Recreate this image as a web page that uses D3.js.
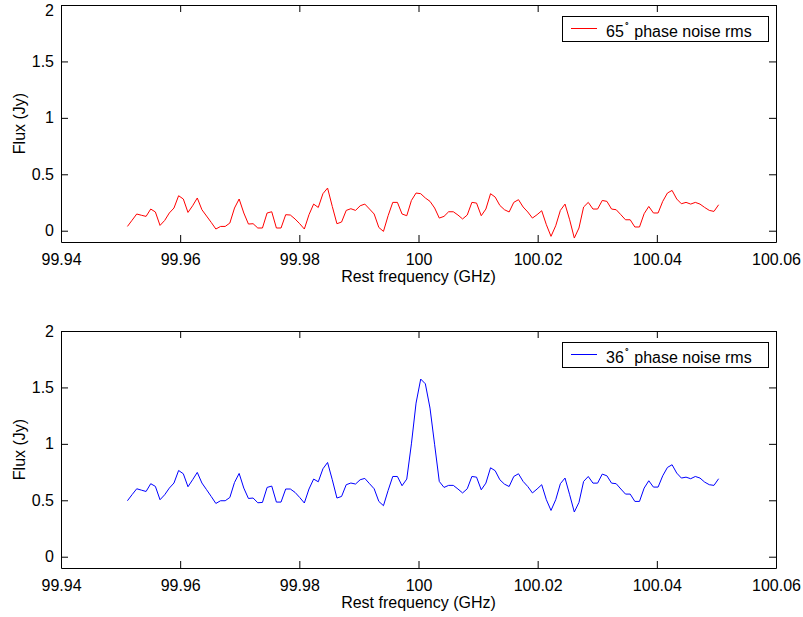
<!DOCTYPE html>
<html><head><meta charset="utf-8">
<script src="https://cdn.jsdelivr.net/npm/d3@7"></script>
<style>html,body{margin:0;padding:0;background:#fff;}svg{display:block;}</style>
</head><body>
<svg id="chart" width="803" height="617"></svg>
<script>
const freq = [99.95115,99.95193,99.95271,99.95349,99.95428,99.95506,99.95584,99.95662,99.95740,99.95818,
99.95896,99.95974,99.96053,99.96131,99.96209,99.96287,99.96365,99.96443,99.96521,99.96599,
99.96678,99.96756,99.96834,99.96912,99.96990,99.97068,99.97146,99.97224,99.97303,99.97381,
99.97459,99.97537,99.97615,99.97693,99.97771,99.97849,99.97928,99.98006,99.98084,99.98162,
99.98240,99.98318,99.98396,99.98474,99.98553,99.98631,99.98709,99.98787,99.98865,99.98943,
99.99021,99.99099,99.99178,99.99256,99.99334,99.99412,99.99490,99.99568,99.99646,99.99724,
99.99803,99.99881,99.99959,100.00037,100.00115,100.00193,100.00271,100.00349,100.00428,100.00506,
100.00584,100.00662,100.00740,100.00818,100.00896,100.00974,100.01053,100.01131,100.01209,100.01287,
100.01365,100.01443,100.01521,100.01599,100.01678,100.01756,100.01834,100.01912,100.01990,100.02068,
100.02146,100.02224,100.02303,100.02381,100.02459,100.02537,100.02615,100.02693,100.02771,100.02849,
100.02928,100.03006,100.03084,100.03162,100.03240,100.03318,100.03396,100.03474,100.03553,100.03631,
100.03709,100.03787,100.03865,100.03943,100.04021,100.04099,100.04178,100.04256,100.04334,100.04412,
100.04490,100.04568,100.04646,100.04724,100.04803,100.04881,100.04959,100.05037];

const fluxPhase65 = [0.038,0.093,0.148,0.137,0.127,0.192,0.166,0.047,0.091,0.157,
0.201,0.310,0.281,0.162,0.221,0.290,0.186,0.130,0.074,0.015,
0.038,0.038,0.068,0.201,0.281,0.157,0.059,0.062,0.024,0.024,
0.157,0.168,0.024,0.024,0.142,0.139,0.104,0.062,0.015,0.142,
0.236,0.206,0.328,0.378,0.215,0.062,0.077,0.180,0.195,0.180,
0.221,0.236,0.192,0.148,0.029,-0.006,0.133,0.251,0.251,0.148,
0.133,0.268,0.334,0.328,0.290,0.260,0.201,0.112,0.127,0.168,
0.168,0.139,0.104,0.139,0.251,0.245,0.133,0.192,0.328,0.298,
0.224,0.186,0.166,0.251,0.275,0.210,0.166,0.112,0.142,0.177,
0.053,-0.050,0.044,0.180,0.236,0.097,-0.065,0.024,0.210,0.251,
0.192,0.192,0.268,0.260,0.192,0.186,0.142,0.097,0.097,0.033,
0.033,0.151,0.215,0.157,0.157,0.260,0.334,0.357,0.281,0.239,
0.251,0.236,0.251,0.236,0.206,0.180,0.171,0.230];

const fluxPhase36 = [0.496,0.550,0.602,0.590,0.578,0.647,0.623,0.505,0.549,0.608,
0.653,0.764,0.735,0.620,0.682,0.747,0.653,0.594,0.534,0.472,
0.496,0.496,0.525,0.658,0.738,0.608,0.516,0.520,0.478,0.481,
0.614,0.626,0.484,0.484,0.600,0.600,0.570,0.525,0.476,0.600,
0.688,0.664,0.779,0.835,0.682,0.520,0.534,0.638,0.653,0.644,
0.682,0.694,0.647,0.602,0.490,0.452,0.587,0.711,0.711,0.629,
0.688,1.000,1.361,1.574,1.532,1.317,0.992,0.667,0.614,0.632,
0.632,0.600,0.565,0.602,0.711,0.705,0.593,0.652,0.788,0.762,
0.682,0.643,0.622,0.711,0.735,0.667,0.622,0.565,0.600,0.638,
0.505,0.410,0.505,0.647,0.697,0.549,0.396,0.481,0.667,0.711,
0.652,0.652,0.732,0.717,0.652,0.647,0.600,0.555,0.555,0.490,
0.490,0.608,0.673,0.617,0.617,0.717,0.791,0.815,0.741,0.697,
0.705,0.691,0.711,0.697,0.661,0.638,0.632,0.691];

const xTicks = [99.94, 99.96, 99.98, 100, 100.02, 100.04, 100.06];
const xTickLabels = ["99.94","99.96","99.98","100","100.02","100.04","100.06"];
const yTicks = [0, 0.5, 1, 1.5, 2];
const yTickLabels = ["0","0.5","1","1.5","2"];
const panels = [
  {values: fluxPhase65, color: "#ff0000", deg: "65", top: 5},
  {values: fluxPhase36, color: "#0000ff", deg: "36", top: 331}
];

const svg = d3.select("#chart");
const FONT = "'Liberation Sans', Arial, Helvetica, sans-serif";
const L = 61, R = 776, PH = 237, TL = 7;
const x = d3.scaleLinear().domain([99.94, 100.06]).range([L, R]);

panels.forEach((p, pi) => {
  const y = d3.scaleLinear().domain([-0.1, 2]).range([p.top + PH, p.top]);
  const g = svg.append("g");
  const B = p.top + PH;

  // data line
  g.append("path")
    .datum(p.values.map((v, i) => [freq[i], v]))
    .attr("fill", "none").attr("stroke", p.color).attr("stroke-width", 1)
    .attr("stroke-linejoin", "round")
    .attr("d", d3.line().x(d => x(d[0])).y(d => y(d[1])));

  // axes (MATLAB style: ticks inside, mirrored)
  const xb = d3.axisBottom(x).tickValues(xTicks).tickSizeInner(-TL).tickSizeOuter(0)
    .tickFormat((d, i) => xTickLabels[i]).tickPadding(12);
  const gx = g.append("g").attr("transform", `translate(0,${B})`).call(xb);
  const xt = d3.axisTop(x).tickValues(xTicks).tickSizeInner(-TL).tickSizeOuter(0).tickFormat("");
  const gxt = g.append("g").attr("transform", `translate(0,${p.top})`).call(xt);
  const yl = d3.axisLeft(y).tickValues(yTicks).tickSizeInner(-TL).tickSizeOuter(0)
    .tickFormat((d, i) => yTickLabels[i]).tickPadding(7);
  const gy = g.append("g").attr("transform", `translate(${L},0)`).call(yl);
  const yr = d3.axisRight(y).tickValues(yTicks).tickSizeInner(-TL).tickSizeOuter(0).tickFormat("");
  const gyr = g.append("g").attr("transform", `translate(${R},0)`).call(yr);

  [gx, gxt, gy, gyr].forEach(a => {
    a.select(".domain").attr("stroke", "#000").attr("stroke-width", 1);
    a.selectAll(".tick line").attr("stroke", "#000").attr("stroke-width", 1);
    a.selectAll("text").attr("font-family", FONT).attr("font-size", 16).attr("fill", "#000");
  });
  if (pi === 0) {
    gy.selectAll(".tick text").filter(d => d === 2).attr("dy", "0.63em");
  }

  // axis titles
  g.append("text").attr("x", (L + R) / 2).attr("y", B + 40)
    .attr("text-anchor", "middle").attr("font-family", FONT).attr("font-size", 16)
    .text("Rest frequency (GHz)");
  g.append("text").attr("transform", `translate(25,${(p.top + B) / 2}) rotate(-90)`)
    .attr("text-anchor", "middle").attr("font-family", FONT).attr("font-size", 16)
    .text("Flux (Jy)");

  // legend
  const lg = g.append("g");
  lg.append("rect").attr("x", 562.5).attr("y", p.top + 11.5).attr("width", 206).attr("height", 25)
    .attr("fill", "#fff").attr("stroke", "#000").attr("stroke-width", 1);
  lg.append("line").attr("x1", 571).attr("x2", 597)
    .attr("y1", p.top + 23.5).attr("y2", p.top + 23.5)
    .attr("stroke", p.color).attr("stroke-width", 1);
  const t = lg.append("text").attr("x", 606).attr("y", p.top + 31.5)
    .attr("font-family", FONT).attr("font-size", 16).attr("fill", "#000");
  t.append("tspan").text(p.deg);
  t.append("tspan").attr("dy", -10).attr("font-size", 9).text("\u2218");
  t.append("tspan").attr("dy", 10).text(" phase noise rms");
});
</script>
</body></html>
